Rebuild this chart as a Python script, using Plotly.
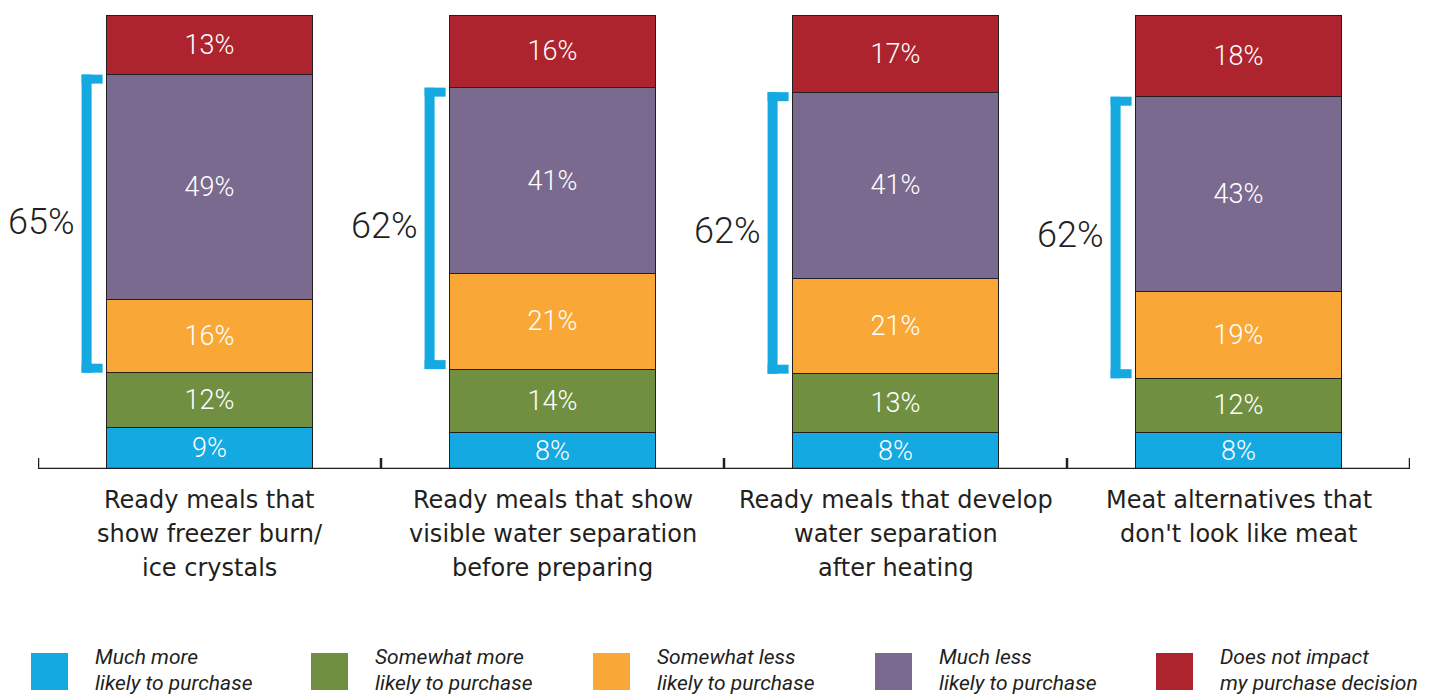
import plotly.graph_objects as go

# ---- data ----
categories = [
    ["Ready meals that", "show freezer burn/", "ice crystals"],
    ["Ready meals that show", "visible water separation", "before preparing"],
    ["Ready meals that develop", "water separation", "after heating"],
    ["Meat alternatives that", "don't look like meat"],
]
series_names = [
    ["Much more", "likely to purchase"],
    ["Somewhat more", "likely to purchase"],
    ["Somewhat less", "likely to purchase"],
    ["Much less", "likely to purchase"],
    ["Does not impact", "my purchase decision"],
]
much_more = [9, 8, 8, 8]
somewhat_more = [12, 14, 13, 12]
somewhat_less = [16, 21, 21, 19]
much_less = [49, 41, 41, 43]
no_impact = [13, 16, 17, 18]

colors = ["#14a9e0", "#718f41", "#f9a838", "#7b6a8f", "#ad242e"]
TEXT = "#231f20"
FONT = "Roboto"
CATFONT = "DejaVu Sans"

values = [much_more, somewhat_more, somewhat_less, much_less, no_impact]
n = len(categories)
xs = list(range(n))
totals = [sum(v[i] for v in values) for i in range(n)]
heights = [[v[i] / totals[i] * 100 for i in range(n)] for v in values]

# plot area pixel geometry
W, H = 1440, 694
L, R, T, B = 38, 30, 15, 225
PW, PH = W - L - R, H - T - B
BARW = 0.6

fig = go.Figure()
for k, name in enumerate(series_names):
    fig.add_trace(go.Bar(
        x=xs, y=heights[k], name=" ".join(name),
        marker=dict(color=colors[k], line=dict(color=TEXT, width=1)),
        width=BARW,
        text=[f"{v}%" for v in values[k]],
        textposition="inside", insidetextanchor="middle",
        constraintext="none",
        textfont=dict(family=FONT, size=27, color="white", weight=300),
        hoverinfo="skip", showlegend=False,
    ))

shapes = []
annotations = []
# axis line and ticks
shapes.append(dict(type="line", xref="x", yref="y", x0=-0.5, x1=n - 0.5, y0=0, y1=0,
                   line=dict(color=TEXT, width=2.5)))
for b in range(n + 1):
    shapes.append(dict(type="line", xref="x", yref="y", xsizemode="scaled",
                       ysizemode="pixel", yanchor=0, x0=b - 0.5, x1=b - 0.5, y0=0, y1=11,
                       line=dict(color=TEXT, width=2.5)))

# brackets (somewhat less + much less)
BLUE = "#14a9e0"
for i in xs:
    lo = heights[0][i] + heights[1][i]
    hi = lo + heights[2][i] + heights[3][i]
    left = i - BARW / 2
    shapes.append(dict(type="rect", xref="x", yref="y", xsizemode="pixel", xanchor=left,
                       x0=-25, x1=-15, y0=lo, y1=hi, fillcolor=BLUE, line=dict(width=0)))
    shapes.append(dict(type="rect", xref="x", yref="y", xsizemode="pixel", xanchor=left,
                       ysizemode="pixel", yanchor=hi, x0=-25, x1=-4, y0=-9, y1=0,
                       fillcolor=BLUE, line=dict(width=0)))
    shapes.append(dict(type="rect", xref="x", yref="y", xsizemode="pixel", xanchor=left,
                       ysizemode="pixel", yanchor=lo, x0=-25, x1=-4, y0=0, y1=9,
                       fillcolor=BLUE, line=dict(width=0)))
    annotations.append(dict(x=left, y=(lo + hi) / 2, xref="x", yref="y",
                            text=f"{somewhat_less[i] + much_less[i]}%",
                            showarrow=False, xanchor="right", yanchor="middle",
                            xshift=-30, yshift=2,
                            font=dict(family=FONT, size=36, color=TEXT, weight=300)))

# category labels
for i, lines in enumerate(categories):
    for j, line in enumerate(lines):
        annotations.append(dict(x=i, y=0, xref="x", yref="paper", text=line,
                                showarrow=False, xanchor="center", yanchor="middle",
                                yshift=-31 - 34 * j,
                                font=dict(family=CATFONT, size=24, color=TEXT)))

# legend
def px_x(p):
    return (p - L) / PW

def px_y(q):
    return (H - B - q) / PH

leg_x = [31, 311, 593, 875, 1156]
for k, name in enumerate(series_names):
    x0 = leg_x[k]
    shapes.append(dict(type="rect", xref="paper", yref="paper",
                       x0=px_x(x0), x1=px_x(x0 + 37), y0=px_y(690), y1=px_y(653),
                       fillcolor=colors[k], line=dict(width=0)))
    for j, line in enumerate(name):
        annotations.append(dict(x=px_x(x0 + 62), y=px_y(657 + 26 * j), xref="paper", yref="paper",
                                text=f"<i>{line}</i>", showarrow=False,
                                xanchor="left", yanchor="middle",
                                font=dict(family=FONT, size=21, color=TEXT)))

fig.update_layout(
    width=W, height=H, barmode="stack", bargap=0.4,
    margin=dict(l=L, r=R, t=T, b=B, pad=0),
    paper_bgcolor="white", plot_bgcolor="white",
    xaxis=dict(range=[-0.5, n - 0.5], showticklabels=False, showgrid=False,
               zeroline=False, showline=False, ticks=""),
    yaxis=dict(range=[0, 100], showticklabels=False, showgrid=False,
               zeroline=False, showline=False, ticks=""),
    shapes=shapes, annotations=annotations, showlegend=False,
)

fig.write_html("out.html")
